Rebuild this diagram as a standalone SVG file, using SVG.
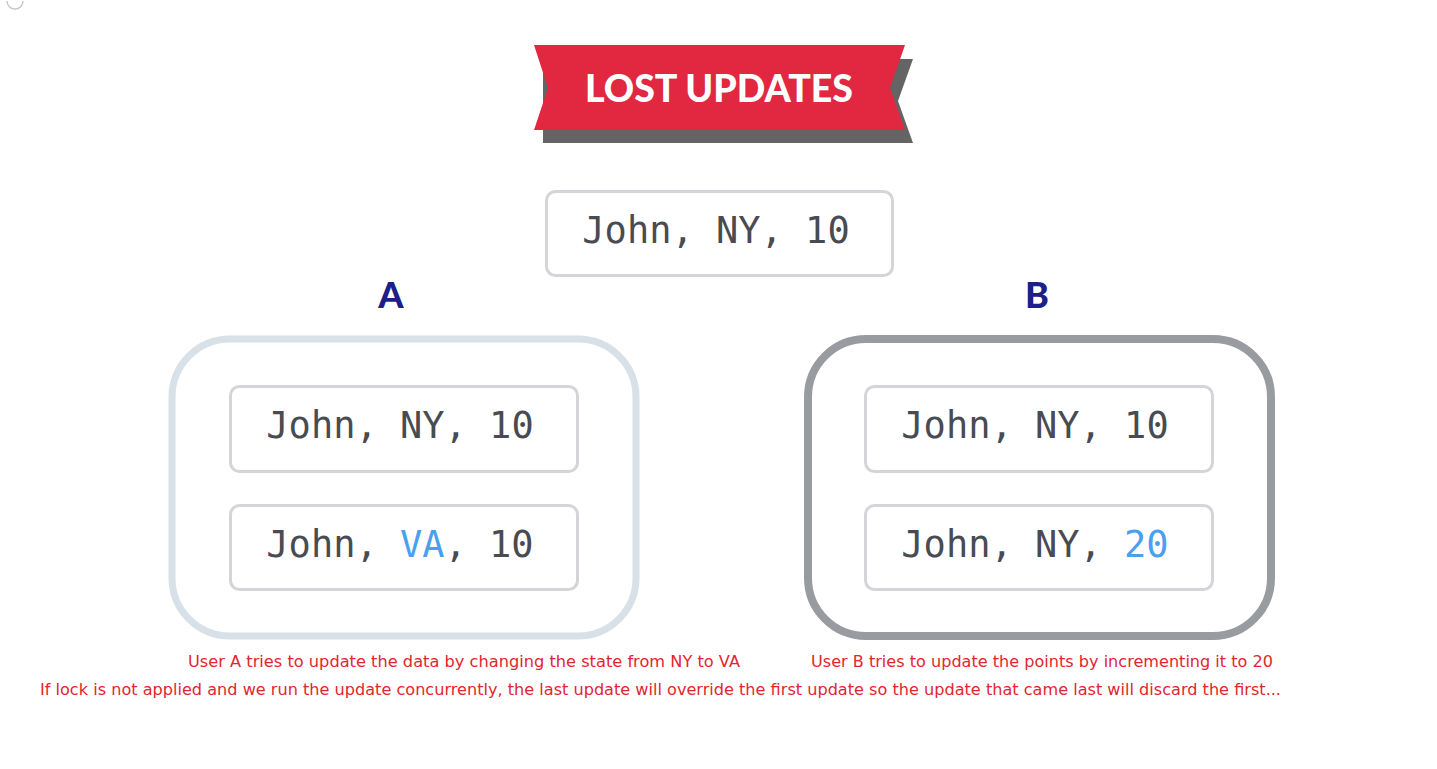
<svg xmlns="http://www.w3.org/2000/svg" width="1437" height="769" viewBox="0 0 1437 769">
<style>
.rec{fill:#fff;stroke:#d3d5d8;stroke-width:3}
.mono{font-family:"DejaVu Sans Mono","Liberation Mono",monospace;font-size:37px;fill:#484b52}
.hl{fill:#4a9ff0}
.lbl{font-family:Lato,"Liberation Sans",sans-serif;font-weight:900;font-size:36px;fill:#1c1f8a;text-anchor:middle}
.cap{font-family:"DejaVu Sans","Liberation Sans",sans-serif;font-size:15.5px;fill:#e3262d}
</style>
<rect width="1437" height="769" fill="#fff"/>
<path d="M7,1 A8,8 0 0 0 23,1" fill="none" stroke="#c8c8c8" stroke-width="1.5"/>
<g id="title">
<polygon points="543,59 913,59 898,101 913,143 543,143" fill="#646464"/>
<polygon points="534,45 905,45 890,88 905,130 534,130 548,88" fill="#e12840"/>
<text x="719" y="102" text-anchor="middle" font-family="Lato,'Liberation Sans',sans-serif" font-weight="900" font-size="37" fill="#fff" textLength="268" lengthAdjust="spacingAndGlyphs">LOST UPDATES</text>
</g>
<g id="original">
<rect class="rec" x="546.5" y="191.5" width="346" height="84" rx="9"/>
<text class="mono" x="716" y="243" text-anchor="middle">John, NY, 10</text>
</g>
<g id="labelA"><text class="lbl" x="391" y="308">A</text></g>
<g id="labelB"><text class="lbl" x="1037" y="308">B</text></g>
<g id="userA">
<rect x="172" y="339" width="464" height="297" rx="58" fill="#fff" stroke="#d8e0e8" stroke-width="7"/>
<rect class="rec" x="230.5" y="386.5" width="347" height="85" rx="9"/>
<text class="mono" x="400" y="438" text-anchor="middle">John, NY, 10</text>
<rect class="rec" x="230.5" y="505.5" width="347" height="84" rx="9"/>
<text class="mono" x="400" y="557" text-anchor="middle">John, <tspan class="hl">VA</tspan>, 10</text>
</g>
<g id="userB">
<rect x="808" y="339" width="463" height="297" rx="58" fill="#fff" stroke="#989ca1" stroke-width="8"/>
<rect class="rec" x="865.5" y="386.5" width="347" height="85" rx="9"/>
<text class="mono" x="1035" y="438" text-anchor="middle">John, NY, 10</text>
<rect class="rec" x="865.5" y="505.5" width="347" height="84" rx="9"/>
<text class="mono" x="1035" y="557" text-anchor="middle">John, NY, <tspan class="hl">20</tspan></text>
</g>
<g id="connectors"></g>
<g id="captions">
<text class="cap" x="188" y="667" textLength="552" lengthAdjust="spacingAndGlyphs">User A tries to update the data by changing the state from NY to VA</text>
<text class="cap" x="811" y="667" textLength="462" lengthAdjust="spacingAndGlyphs">User B tries to update the points by incrementing it to 20</text>
<text class="cap" x="40" y="695" textLength="1241" lengthAdjust="spacingAndGlyphs">If lock is not applied and we run the update concurrently, the last update will override the first update so the update that came last will discard the first...</text>
</g>
</svg>
